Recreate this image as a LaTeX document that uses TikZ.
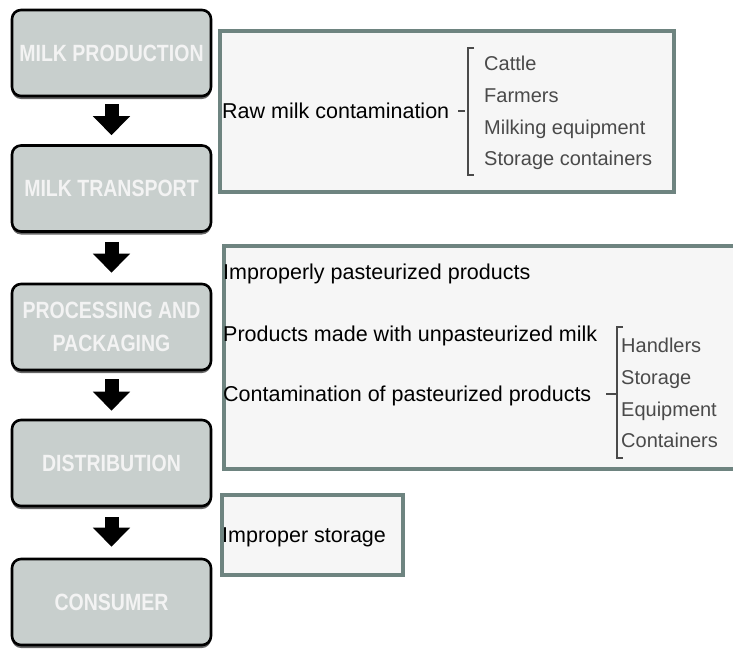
\documentclass[tikz,border=0pt]{standalone}
\usepackage{fontspec}
\setmainfont{Liberation Sans}
\newfontfamily\boxfont[FakeStretch=0.83]{Liberation Sans}
\usetikzlibrary{arrows.meta,shadows}
\definecolor{stagefill}{HTML}{C8CFCD}
\definecolor{stagetext}{HTML}{F3F3F3}
\definecolor{panelline}{HTML}{6E8480}
\definecolor{panelfill}{HTML}{F6F6F6}
\definecolor{itemgray}{HTML}{4A4A4A}
\begin{document}
\begin{tikzpicture}[x=1pt,y=-1pt,
  stage/.style={draw=black, line width=2.6pt, fill=stagefill, rounded corners=9pt,
    minimum width=199pt, minimum height=86pt, inner sep=2pt, align=center,
    text=stagetext, font=\boxfont\bfseries\fontsize{23.5}{33}\selectfont,
    drop shadow={shadow xshift=0pt, shadow yshift=-3pt, opacity=1, fill=black!60}},
  panel/.style={draw=panelline, line width=3.5pt, fill=panelfill, anchor=north west, inner sep=0pt},
  cause/.style={anchor=base west, inner sep=0pt, font=\fontsize{21.5}{24}\selectfont, text=black},
  item/.style={anchor=base west, inner sep=0pt, font=\fontsize{20}{22}\selectfont, text=itemgray},
  flow/.style={line width=14pt, draw=black, -{Triangle[width=36pt,length=19pt]}},
  brace/.style={draw=itemgray, line width=1.3pt}
]
\clip (0,0) rectangle (733,648);
\useasboundingbox (0,0) rectangle (733,648);

% stage boxes
\node[stage] (b1) at (111.5,53) {MILK PRODUCTION};
\node[stage] (b2) at (111.5,188.5) {MILK TRANSPORT};
\node[stage] (b3) at (111.5,327) {PROCESSING AND\\PACKAGING};
\node[stage] (b4) at (111.5,463) {DISTRIBUTION};
\node[stage] (b5) at (111.5,602) {CONSUMER};

% flow arrows
\draw[flow] ([yshift=-7pt]b1.south) -- ([yshift=9pt]b2.north);
\draw[flow] ([yshift=-9pt]b2.south) -- ([yshift=10pt]b3.north);
\draw[flow] ([yshift=-8pt]b3.south) -- ([yshift=8pt]b4.north);
\draw[flow] ([yshift=-10pt]b4.south) -- ([yshift=11pt]b5.north);

% panels
\node[panel, minimum width=454pt, minimum height=161pt] (p1) at (218,29) {};
\node[panel, minimum width=530pt, minimum height=223pt] (p2) at (222,244) {};
\node[panel, minimum width=181pt, minimum height=80pt] (p3) at (220,493) {};

% panel 1
\node[cause] (c1) at (222,118) {Raw milk contamination};
\coordinate (d1a) at (458,111);
\coordinate (d1b) at (465,111);
\draw[brace] (d1a) -- (d1b);
\coordinate (k1t) at (468,48);
\coordinate (k1b) at (468,175);
\draw[brace] ([xshift=6pt]k1t) -- (k1t) -- (k1b) -- ([xshift=6pt]k1b);
\node[item] (i1) at (484,70) {Cattle};
\node[item] (i2) at (484,102) {Farmers};
\node[item] (i3) at (484,134) {Milking equipment};
\node[item] (i4) at (484,165) {Storage containers};

% panel 2
\node[cause] (c2) at (223,279) {Improperly pasteurized products};
\node[cause] (c3) at (223,341) {Products made with unpasteurized milk};
\node[cause] (c4) at (223,401) {Contamination of pasteurized products};
\coordinate (d2a) at (606,394);
\coordinate (d2b) at (617,394);
\draw[brace] (d2a) -- (d2b);
\coordinate (k2t) at (617,327);
\coordinate (k2b) at (617,458);
\draw[brace] ([xshift=6pt]k2t) -- (k2t) -- (k2b) -- ([xshift=6pt]k2b);
\node[item] (j1) at (621,352) {Handlers};
\node[item] (j2) at (621,384) {Storage};
\node[item] (j3) at (621,416) {Equipment};
\node[item] (j4) at (621,447) {Containers};

% panel 3
\node[cause] (c5) at (222,542) {Improper storage};
\end{tikzpicture}
\end{document}
